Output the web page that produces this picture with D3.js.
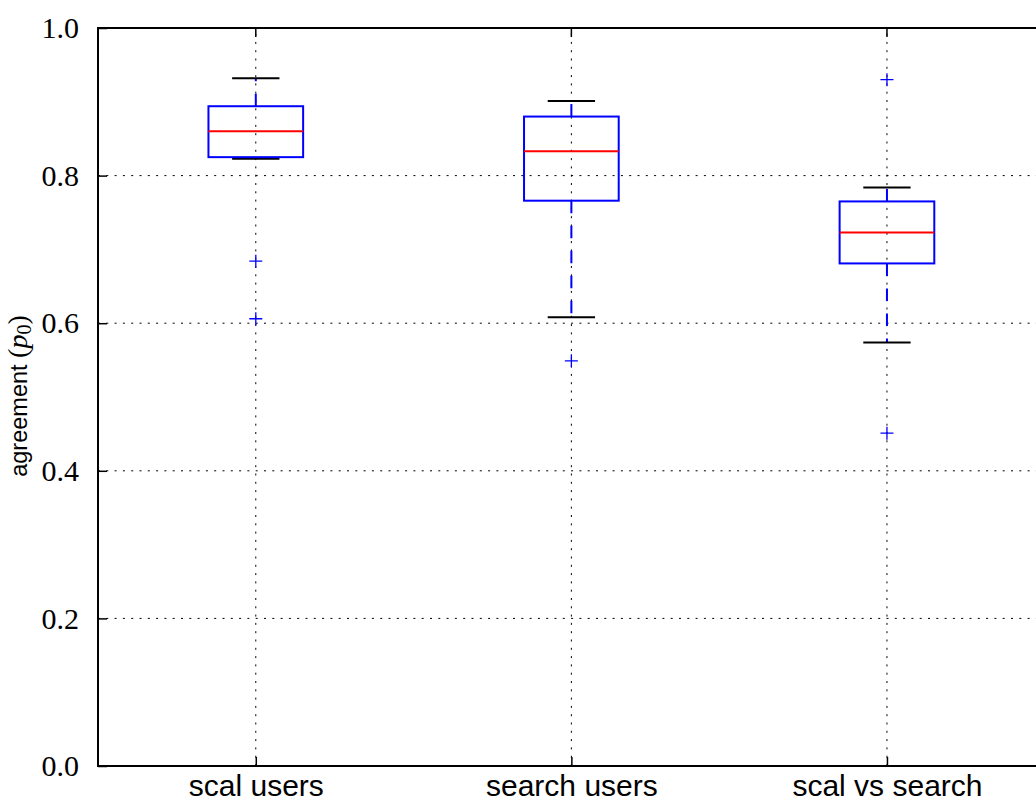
<!DOCTYPE html>
<html>
<head>
<meta charset="utf-8">
<script src="https://cdn.jsdelivr.net/npm/d3@7"></script>
<style>
  body { margin: 0; background: #fff; }
</style>
</head>
<body>
<div class="chart"></div>
<script>
'use strict';

// values
const categories = ["scal users", "search users", "scal vs search"];
const whiskerHigh = [0.932, 0.901, 0.784];
const q3 = [0.894, 0.880, 0.765];
const medians = [0.860, 0.833, 0.723];
const q1 = [0.825, 0.766, 0.681];
const whiskerLow = [0.823, 0.608, 0.574];
const outliers = [[0.684, 0.606], [0.549], [0.930, 0.451]];
const yTicks = [0.0, 0.2, 0.4, 0.6, 0.8, 1.0];

(function() {

    let svgContainer = "";
    let xScale, yScale;

    window.onload = function() {
        svgContainer = d3.select('.chart')
                        .append('svg').attr('width', 1036).attr('height', 804);
        makeScales();
        drawGrid();
        drawBoxes();
        drawFrame();
        makeLabels();
    }

    function makeScales() {
        xScale = d3.scaleLinear()
          .domain([0.5, categories.length + 0.5])
          .range([98, 1044.75]);
        yScale = d3.scaleLinear()
          .domain([0, 1])
          .range([766, 28]);
    }

    function drawGrid() {
        let grid = svgContainer.append('g')
          .attr('stroke', '#000')
          .attr('stroke-width', 1)
          .attr('stroke-dasharray', '2,6.3');

        grid.selectAll('.hgrid')
          .data(yTicks.slice(1, -1))
          .enter()
          .append('line')
            .attr('x1', xScale(0.5)).attr('x2', xScale(categories.length + 0.5))
            .attr('y1', d => yScale(d)).attr('y2', d => yScale(d));

        grid.selectAll('.vgrid')
          .data(categories)
          .enter()
          .append('line')
            .attr('x1', (d, i) => xScale(i + 1)).attr('x2', (d, i) => xScale(i + 1))
            .attr('y1', yScale(0)).attr('y2', yScale(1));
    }

    function drawBoxes() {
        let boxW = 0.3;
        let capW = 0.15;

        categories.forEach(function(c, i) {
            let pos = i + 1;
            let g = svgContainer.append('g');

            // whiskers (dashed, start at the box edge)
            g.append('line')
              .attr('x1', xScale(pos)).attr('x2', xScale(pos))
              .attr('y1', yScale(q3[i])).attr('y2', yScale(whiskerHigh[i]))
              .attr('stroke', '#0000ff').attr('stroke-width', 2)
              .attr('stroke-dasharray', '12.5,12.5');
            g.append('line')
              .attr('x1', xScale(pos)).attr('x2', xScale(pos))
              .attr('y1', yScale(q1[i])).attr('y2', yScale(whiskerLow[i]))
              .attr('stroke', '#0000ff').attr('stroke-width', 2)
              .attr('stroke-dasharray', '12.5,12.5');

            // caps
            [whiskerHigh[i], whiskerLow[i]].forEach(function(v) {
                g.append('line')
                  .attr('x1', xScale(pos - capW / 2)).attr('x2', xScale(pos + capW / 2))
                  .attr('y1', yScale(v)).attr('y2', yScale(v))
                  .attr('stroke', '#000').attr('stroke-width', 2);
            });

            // box
            g.append('rect')
              .attr('x', xScale(pos - boxW / 2))
              .attr('y', yScale(q3[i]))
              .attr('width', xScale(pos + boxW / 2) - xScale(pos - boxW / 2))
              .attr('height', yScale(q1[i]) - yScale(q3[i]))
              .attr('fill', 'none')
              .attr('stroke', '#0000ff').attr('stroke-width', 2);

            // median
            g.append('line')
              .attr('x1', xScale(pos - boxW / 2)).attr('x2', xScale(pos + boxW / 2))
              .attr('y1', yScale(medians[i])).attr('y2', yScale(medians[i]))
              .attr('stroke', '#ff0000').attr('stroke-width', 2);

            // fliers
            let s = 6.5;
            g.selectAll('.flier')
              .data(outliers[i])
              .enter()
              .append('path')
                .attr('d', d => 'M' + (xScale(pos) - s) + ',' + yScale(d) + 'H' + (xScale(pos) + s) +
                                'M' + xScale(pos) + ',' + (yScale(d) - s) + 'V' + (yScale(d) + s))
                .attr('stroke', '#0000ff').attr('stroke-width', 1.3)
                .attr('fill', 'none');
        });
    }

    function drawFrame() {
        let yAxis = d3.axisLeft(yScale)
          .tickValues(yTicks)
          .tickFormat(d3.format('.1f'))
          .tickSizeInner(-9)
          .tickSizeOuter(0)
          .tickPadding(19);
        let ya = svgContainer.append('g')
          .attr('transform', 'translate(' + xScale(0.5) + ',0)')
          .call(yAxis);
        ya.select('.domain').remove();
        ya.selectAll('line').attr('stroke', '#000').attr('stroke-width', 1.5);
        ya.selectAll('text')
          .style('font-family', '"Liberation Serif", serif')
          .style('font-size', '30px')
          .attr('fill', '#000');

        let xAxis = d3.axisBottom(xScale)
          .tickValues(categories.map((d, i) => i + 1))
          .tickFormat((d, i) => categories[i])
          .tickSizeInner(-9)
          .tickSizeOuter(0)
          .tickPadding(9);
        let xa = svgContainer.append('g')
          .attr('transform', 'translate(0,' + yScale(0) + ')')
          .call(xAxis);
        xa.select('.domain').remove();
        xa.selectAll('line').attr('stroke', '#000').attr('stroke-width', 1.5);
        xa.selectAll('text')
          .style('font-family', '"Liberation Sans", Arial, sans-serif')
          .style('font-size', '30px')
          .attr('fill', '#000');

        // top ticks
        svgContainer.append('g')
          .selectAll('line')
          .data(categories)
          .enter()
          .append('line')
            .attr('x1', (d, i) => xScale(i + 1)).attr('x2', (d, i) => xScale(i + 1))
            .attr('y1', yScale(1)).attr('y2', yScale(1) + 9)
            .attr('stroke', '#000').attr('stroke-width', 1.5);

        svgContainer.append('rect')
          .attr('x', xScale(0.5))
          .attr('y', yScale(1))
          .attr('width', xScale(categories.length + 0.5) - xScale(0.5))
          .attr('height', yScale(0) - yScale(1))
          .attr('fill', 'none')
          .attr('stroke', '#000')
          .attr('stroke-width', 2);
    }

    function makeLabels() {
        let label = svgContainer.append('text')
          .attr('transform', 'translate(27, 396)rotate(-90)')
          .attr('text-anchor', 'middle')
          .style('font-family', '"Liberation Sans", Arial, sans-serif')
          .style('font-size', '23.5px')
          .attr('fill', '#000');
        label.append('tspan').text('agreement ');
        let math = label.append('tspan')
          .style('font-family', '"Liberation Serif", serif')
          .style('font-size', '28px');
        math.append('tspan').text('(');
        math.append('tspan').style('font-style', 'italic').text('p');
        math.append('tspan').attr('dy', 4).style('font-size', '20px').text('0');
        math.append('tspan').attr('dy', -4).text(')');
    }

})();
</script>
</body>
</html>
